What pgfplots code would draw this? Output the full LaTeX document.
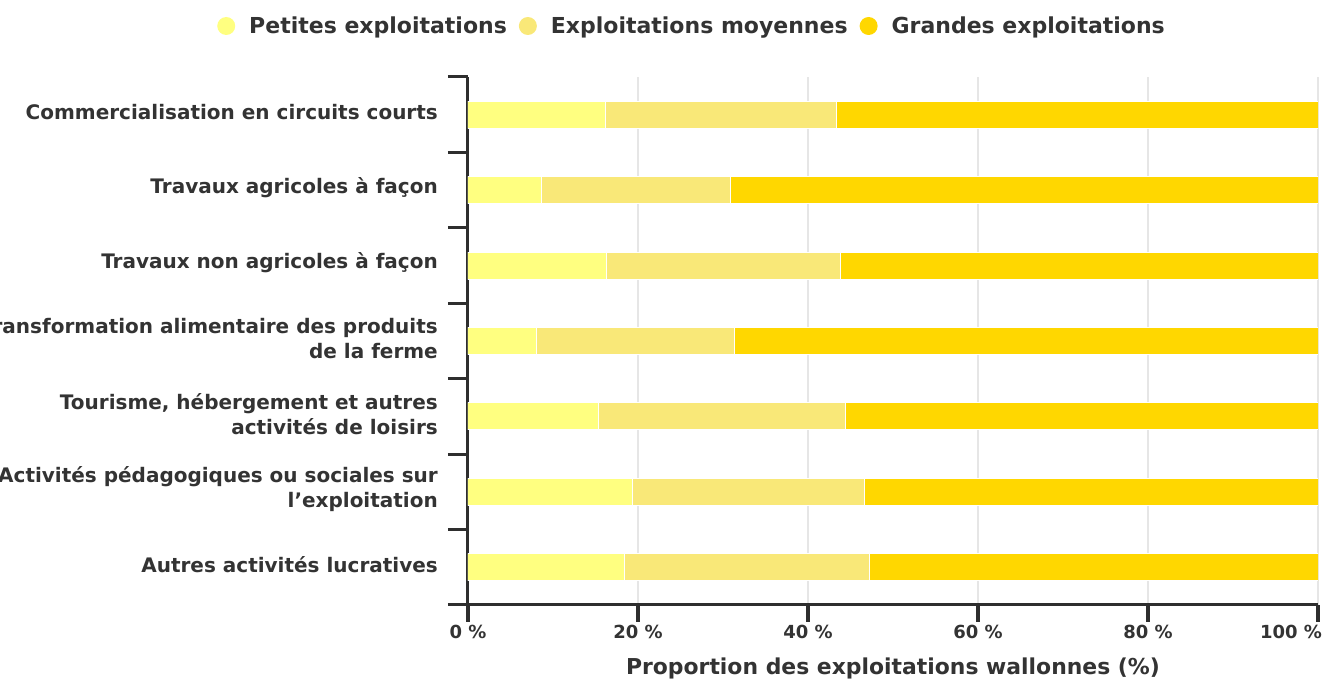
\documentclass[border=0pt]{standalone}
\usepackage{fontspec}
\setmainfont{DejaVu Sans}
\usepackage{pgfplots}
\usepackage{pgfplotstable}
\pgfplotsset{compat=1.18}
\definecolor{petit}{HTML}{FFFF80}
\definecolor{moyen}{HTML}{F9E878}
\definecolor{grand}{HTML}{FFD700}
\definecolor{axc}{HTML}{2E2E2E}
\definecolor{txt}{HTML}{333333}
\definecolor{gridc}{HTML}{E6E6E6}

% y: 6 = top category (Commercialisation), 0 = bottom (Autres)
\pgfplotstableread{
idx small medium large
6 16.2 27.2 56.6
5 8.6 22.3 69.1
4 16.3 27.5 56.2
3 8.1 23.2 68.7
2 15.4 29.0 55.6
1 19.3 27.3 53.4
0 18.4 28.8 52.8
}\data

\begin{document}
\begin{tikzpicture}
\begin{axis}[
  scale only axis, width=850pt, height=528pt,
  xbar stacked, bar width=27pt,
  xmin=0, xmax=100, ymin=-0.5, ymax=6.5,
  axis lines=left,
  axis line style={draw=axc, line width=3pt, -},
  tick align=outside,
  major tick length=17pt,
  tick style={draw=axc, line width=4pt},
  xtick={0,20,...,100},
  xticklabels={0 \%,20 \%,40 \%,60 \%,80 \%,\makebox[8pt][r]{100 \%}},
  xticklabel style={font=\fontsize{18}{20}\selectfont\bfseries, text=txt, inner sep=0pt, yshift=-3pt},
  xmajorgrids,
  major grid style={draw=gridc, line width=1.5pt},
  ytick={0,...,6},
  ytick style={draw=none},
  yticklabels={Autres activités lucratives,
    {Activités pédagogiques ou sociales sur\\l’exploitation},
    {Tourisme, hébergement et autres\\activités de loisirs},
    {Transformation alimentaire des produits\\de la ferme},
    Travaux non agricoles à façon,
    Travaux agricoles à façon,
    Commercialisation en circuits courts},
  yticklabel style={font=\fontsize{20}{25}\selectfont\bfseries, text=txt, align=right, anchor=east, inner sep=0pt, xshift=-13pt, yshift=2.5pt},
  extra y ticks={-0.5,0.5,...,6.5},
  extra y tick labels={},
  extra y tick style={major tick length=20pt, ytick style={draw=axc, line width=3pt}},
  xlabel={Proportion des exploitations wallonnes (\%)},
  every axis x label/.style={at={(rel axis cs:0.5,0)}, anchor=base, yshift=-70pt, font=\fontsize{21.9}{24}\selectfont\bfseries, text=txt},
  legend columns=-1,
  legend style={at={(rel axis cs:0.2624,1)}, yshift=51pt, anchor=center, draw=none, fill=none,
    font=\fontsize{22}{24}\selectfont\bfseries, text=txt,
    nodes={inner sep=0pt},
    /tikz/every odd column/.append style={column sep=14pt},
    /tikz/every even column/.append style={column sep=12pt}},
  legend image code/.code={\fill[#1, draw=none] (9pt,0pt) circle (9pt);},
]
\addplot[fill=petit, draw=white, line width=1pt] table[x=small, y=idx] {\data};
\addplot[fill=moyen, draw=white, line width=1pt] table[x=medium, y=idx] {\data};
\addplot[fill=grand, draw=white, line width=1pt] table[x=large, y=idx] {\data};
\legend{Petites exploitations, Exploitations moyennes, Grandes exploitations}
\end{axis}
\pgfresetboundingbox
\path[use as bounding box] (-468pt,-74pt) rectangle (857pt,605pt);
\end{tikzpicture}
\end{document}
